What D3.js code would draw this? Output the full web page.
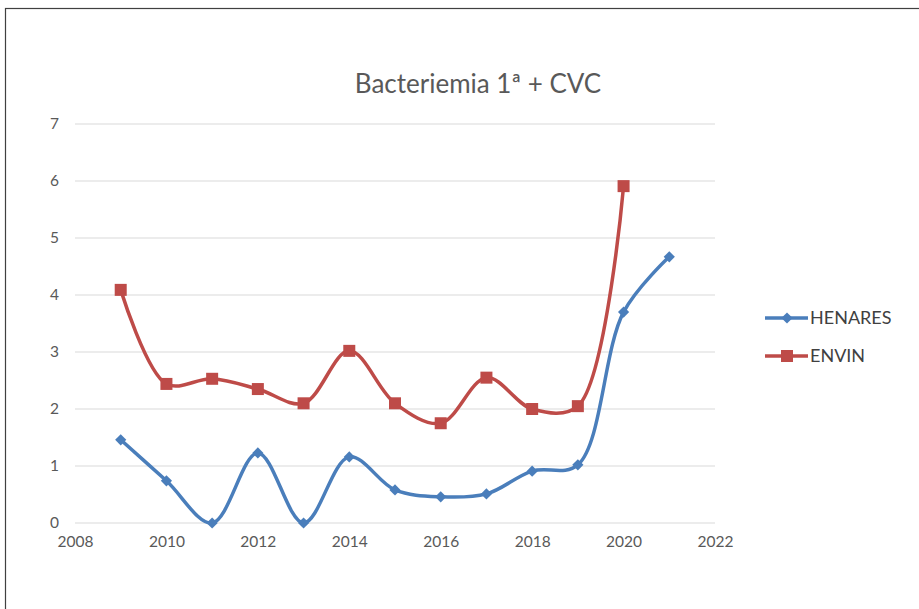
<!DOCTYPE html>
<html><head><meta charset="utf-8">
<script src="https://cdn.jsdelivr.net/npm/d3@7"></script>
<style>body{margin:0;background:#fff;}svg{display:block;}</style>
</head><body>
<svg id="c" width="919" height="609"></svg>
<script>
const years = [2009,2010,2011,2012,2013,2014,2015,2016,2017,2018,2019,2020,2021];
const henares = [1.46,0.74,0.0,1.23,0.0,1.16,0.58,0.46,0.51,0.91,1.02,3.70,4.67];
const envinYears = [2009,2010,2011,2012,2013,2014,2015,2016,2017,2018,2019,2020];
const envin = [4.09,2.44,2.53,2.35,2.10,3.02,2.10,1.75,2.55,2.00,2.05,5.91];
const xTicks = [2008,2010,2012,2014,2016,2018,2020,2022];
const yTicks = [0,1,2,3,4,5,6,7];
const seriesNames = ["HENARES","ENVIN"];

const svg = d3.select("#c");
const font = "Lato, 'Open Sans', sans-serif";
svg.append("rect").attr("x",5.5).attr("y",8.5).attr("width",930).attr("height",620)
  .attr("fill","#fff").attr("stroke","#404040").attr("stroke-width",1.2);

const x = d3.scaleLinear().domain([2008,2022]).range([75,715]);
const y = d3.scaleLinear().domain([0,7]).range([523,124]);

svg.append("g").selectAll("line").data(yTicks).join("line")
  .attr("x1",75).attr("x2",715).attr("y1",d=>y(d)).attr("y2",d=>y(d))
  .attr("stroke","#d9d9d9").attr("stroke-width",1);

const yAxis = svg.append("g").attr("transform","translate(75,0)")
  .call(d3.axisLeft(y).tickValues(yTicks).tickFormat(d3.format("d")).tickSize(0).tickPadding(16));
yAxis.select(".domain").remove();
yAxis.selectAll("text").attr("font-family",font).attr("font-size",15.5).attr("fill","#595959");

const xAxis = svg.append("g").attr("transform","translate(0,523)")
  .call(d3.axisBottom(x).tickValues(xTicks).tickFormat(d3.format("d")).tickSize(0).tickPadding(13));
xAxis.select(".domain").remove();
xAxis.selectAll("text").attr("font-family",font).attr("font-size",15.5).attr("fill","#595959");

svg.append("text").attr("x",478).attr("y",93).attr("text-anchor","middle")
  .attr("font-family",font).attr("font-size",26).attr("fill","#595959").text("Bacteriemia 1ª + CVC");

const blue = "#4a7ebb", red = "#be4b48";
const line = d3.line().x(d=>x(d[0])).y(d=>y(d[1])).curve(d3.curveCatmullRom.alpha(0.5));
const hData = years.map((d,i)=>[d,henares[i]]);
const eData = envinYears.map((d,i)=>[d,envin[i]]);

svg.append("path").datum(eData).attr("d",line).attr("fill","none").attr("stroke",red).attr("stroke-width",3.5);
svg.append("path").datum(hData).attr("d",line).attr("fill","none").attr("stroke",blue).attr("stroke-width",3.5);

const diamond = d3.symbol().type(d3.symbolDiamond2).size(80);
svg.selectAll("path.h").data(hData).join("path").attr("class","h")
  .attr("transform",d=>`translate(${x(d[0])},${y(d[1])})`).attr("d",diamond).attr("fill",blue);
svg.selectAll("rect.e").data(eData).join("rect").attr("class","e")
  .attr("x",d=>x(d[0])-6).attr("y",d=>y(d[1])-6).attr("width",12).attr("height",12).attr("fill",red);

const leg = [{n:seriesNames[0],c:blue,y:318,t:"d"},{n:seriesNames[1],c:red,y:356,t:"s"}];
leg.forEach(l=>{
  svg.append("line").attr("x1",765).attr("x2",808).attr("y1",l.y).attr("y2",l.y).attr("stroke",l.c).attr("stroke-width",3.5);
  if(l.t==="d") svg.append("path").attr("transform",`translate(787,${l.y})`).attr("d",diamond).attr("fill",l.c);
  else svg.append("rect").attr("x",781).attr("y",l.y-6).attr("width",12).attr("height",12).attr("fill",l.c);
  svg.append("text").attr("x",810).attr("y",l.y+6).attr("font-family",font).attr("font-size",18).attr("fill","#404040").text(l.n);
});
</script>
</body></html>
